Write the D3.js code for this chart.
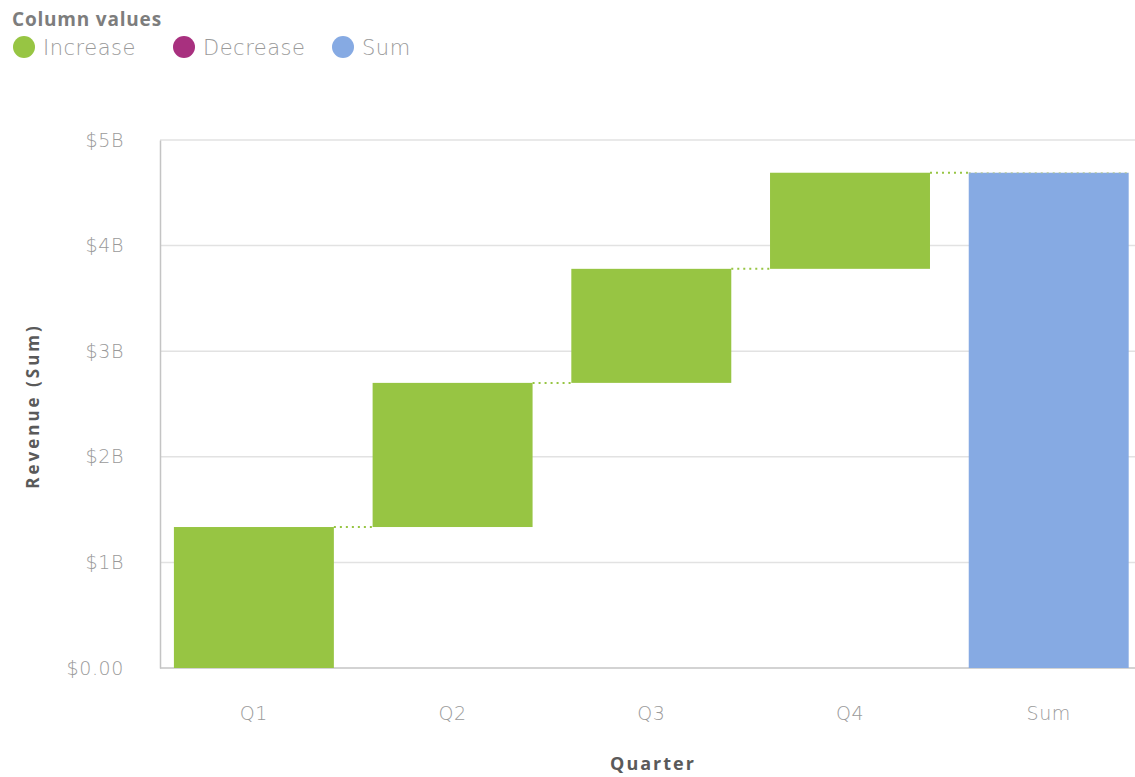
<!DOCTYPE html>
<html>
<head>
<meta charset="utf-8">
<script src="https://cdn.jsdelivr.net/npm/d3@7"></script>
<style>
  html, body { margin: 0; padding: 0; background: #fff; }
  svg { display: block; font-family: "Open Sans", "Noto Sans", sans-serif; }
</style>
</head>
<body>
<svg id="chart" width="1135" height="777"></svg>
<script>
// ---- data ----
const categories = ["Q1", "Q2", "Q3", "Q4", "Sum"];
const increments = [1.335e9, 1.365e9, 1.08e9, 0.91e9]; // quarterly revenue increases
const yTickValues = [0, 1e9, 2e9, 3e9, 4e9, 5e9];
const yTickLabels = ["$0.00", "$1B", "$2B", "$3B", "$4B", "$5B"];
const legendLabels = ["Increase", "Decrease", "Sum"];
const legendColors = ["#97c543", "#a8307f", "#86aae3"];

// ---- build waterfall rows ----
let run = 0;
const rows = increments.map((v, i) => {
  const r = { cat: categories[i], start: run, end: run + v, type: v >= 0 ? "Increase" : "Decrease" };
  run += v;
  return r;
});
rows.push({ cat: "Sum", start: 0, end: run, type: "Sum" });
const colorOf = d3.scaleOrdinal().domain(legendLabels).range(legendColors);

const svg = d3.select("#chart");
const margin = { left: 160, top: 140, bottom: 668 };
const lightFont = "'DejaVu Sans', sans-serif";

const x = d3.scaleBand().domain(categories).range([margin.left, 1142.6])
  .paddingInner(0.195).paddingOuter(0.07);
const y = d3.scaleLinear().domain([0, 5e9]).range([margin.bottom, margin.top]);

// gridlines
svg.append("g").selectAll("line").data(yTickValues.filter(v => v > 0)).join("line")
  .attr("x1", margin.left).attr("x2", 1135)
  .attr("y1", d => y(d)).attr("y2", d => y(d))
  .attr("stroke", "#e2e2e2").attr("stroke-width", 1.5);

// y axis
const yAxis = d3.axisLeft(y).tickValues(yTickValues)
  .tickFormat((d, i) => yTickLabels[i]).tickSize(0).tickPadding(36);
const gy = svg.append("g").attr("transform", `translate(${margin.left},0)`).call(yAxis);
gy.select(".domain").attr("stroke", "#c4c4c4").attr("stroke-width", 1.5);
gy.selectAll("text").attr("fill", "#9a9a9a").style("font-size", "19px")
  .style("font-weight", "200").style("letter-spacing", "0.6px")
  .style("font-family", lightFont);

// x axis
const xAxis = d3.axisBottom(x).tickSize(0).tickPadding(39);
const gx = svg.append("g").attr("transform", `translate(0,${margin.bottom})`).call(xAxis);
gx.select(".domain").attr("stroke", "#c4c4c4").attr("stroke-width", 1.5)
  .attr("d", `M${margin.left},0H1135`);
gx.selectAll("text").attr("fill", "#9a9a9a").style("font-size", "19px")
  .style("font-weight", "200").style("letter-spacing", "0.6px")
  .style("font-family", lightFont);

// bars
svg.append("g").selectAll("rect").data(rows).join("rect")
  .attr("x", d => x(d.cat))
  .attr("width", x.bandwidth())
  .attr("y", d => y(Math.max(d.start, d.end)))
  .attr("height", d => Math.abs(y(d.start) - y(d.end)))
  .attr("fill", d => colorOf(d.type));

// connectors
const conns = rows.slice(0, rows.length - 1).map((d, i) => ({
  x1: x(d.cat) + x.bandwidth(), x2: x(rows[i + 1].cat), v: d.end
}));
svg.append("g").selectAll("line").data(conns).join("line")
  .attr("x1", d => d.x1).attr("x2", d => d.x2)
  .attr("y1", d => y(d.v)).attr("y2", d => y(d.v))
  .attr("stroke", "#97c543").attr("stroke-width", 2)
  .attr("stroke-dasharray", "2,4");
// dotted top on sum bar
const sumRow = rows[rows.length - 1];
svg.append("line")
  .attr("x1", x(sumRow.cat)).attr("x2", x(sumRow.cat) + x.bandwidth())
  .attr("y1", y(sumRow.end)).attr("y2", y(sumRow.end))
  .attr("stroke", "#b6c98e").attr("stroke-width", 1.5)
  .attr("stroke-dasharray", "2,4").attr("opacity", 0.7);

// axis titles
svg.append("text")
  .attr("transform", `translate(39,${(margin.top + margin.bottom) / 2 + 2}) rotate(-90)`)
  .attr("text-anchor", "middle").attr("fill", "#5a5a5a")
  .style("font-size", "17px").style("font-weight", "bold").style("letter-spacing", "3px")
  .text("Revenue (Sum)");
svg.append("text")
  .attr("x", 653).attr("y", 770)
  .attr("text-anchor", "middle").attr("fill", "#5a5a5a")
  .style("font-size", "18px").style("font-weight", "bold").style("letter-spacing", "2px")
  .text("Quarter");

// legend
svg.append("text").attr("x", 12).attr("y", 26)
  .attr("fill", "#7d7d7d").style("font-size", "19px").style("font-weight", "bold")
  .style("letter-spacing", "0.8px")
  .text("Column values");
const legendX = [24, 184, 343];
const lg = svg.append("g").selectAll("g").data(legendLabels).join("g")
  .attr("transform", (d, i) => `translate(${legendX[i]},47)`);
lg.append("circle").attr("r", 11).attr("fill", (d, i) => legendColors[i]);
lg.append("text").attr("x", 19).attr("y", 8)
  .attr("fill", "#9a9a9a").style("font-size", "21px").style("font-weight", "200")
  .style("letter-spacing", "0.5px")
  .style("font-family", lightFont)
  .text(d => d);
</script>
</body>
</html>
